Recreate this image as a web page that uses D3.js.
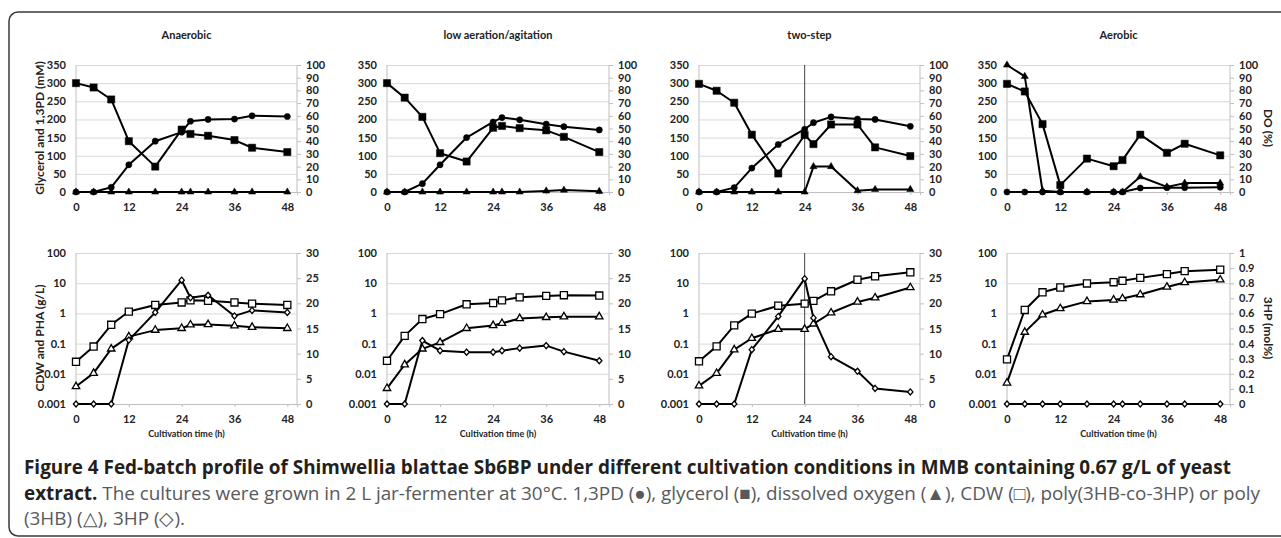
<!DOCTYPE html>
<html>
<head>
<meta charset="utf-8">
<script src="https://cdn.jsdelivr.net/npm/d3@7"></script>
<style>
  body { margin: 0; background: #fff; }
  svg { display: block; }
  .tick text { font-family: Lato, 'Open Sans', sans-serif; font-weight: bold; font-size: 11px; fill: #222; }
</style>
</head>
<body>
<svg id="chart" width="1281" height="538"></svg>
<script>
const hours = [0, 4, 8, 12, 18, 24, 26, 30, 36, 40, 48];
const conditions = ['Anaerobic', 'low aeration/agitation', 'two-step', 'Aerobic'];

// top row, left axis (mM) and right axis (DO %)
const glycerol = [
  [300, 288, 255, 140, 70, 172, 160, 155, 143, 122, 110],
  [300, 260, 207, 107, 84, 177, 182, 176, 170, 152, 110],
  [298, 279, 246, 158, 51, 157, 132, 186, 186, 123, 99],
  [298, 277, 187, 19, 92, 71, 88, 158, 108, 133, 101]
];
const propanediol = [
  [0, 0, 13, 75, 140, 165, 195, 200, 201, 210, 208],
  [0, 0, 23, 75, 150, 193, 205, 199, 187, 180, 171],
  [0, 0, 12, 66, 131, 173, 191, 207, 201, 200, 181],
  [0, 0, 0, 0, 0, 0, 0, 11, 12, 12, 13]
];
const dissolvedOxygen = [
  [0, 0, 0, 0, 0, 0, 0, 0, 0, 0, 0],
  [0, 0, 0, 0, 0, 0, 0, 0, 0.8, 1.5, 0.5],
  [0, 0, 0, 0, 0, 0, 20, 20, 1, 2, 2],
  [100, 91, 1, 0, 0, 0, 0, 12, 4, 7, 7]
];

// bottom row, left axis (g/L, log) and right axis (3HP mol%)
const cdw = [
  [0.025, 0.08, 0.42, 1.15, 1.9, 2.3, 2.7, 2.6, 2.3, 2.1, 1.9],
  [0.027, 0.18, 0.65, 0.95, 2.0, 2.2, 2.7, 3.4, 3.8, 4.0, 3.9],
  [0.026, 0.081, 0.4, 0.98, 1.8, 2.1, 2.6, 5.4, 13, 17, 23],
  [0.03, 1.3, 5, 7.2, 9.8, 10.8, 12, 15, 20, 25, 28]
];
const pha = [
  [0.0038, 0.0105, 0.067, 0.17, 0.28, 0.32, 0.42, 0.43, 0.39, 0.35, 0.32],
  [0.0033, 0.02, 0.067, 0.11, 0.32, 0.4, 0.47, 0.68, 0.74, 0.78, 0.78],
  [0.004, 0.0104, 0.063, 0.15, 0.3, 0.3, 0.45, 1.05, 2.4, 3.3, 7.2],
  [0.005, 0.24, 0.9, 1.45, 2.5, 2.8, 3.1, 4.2, 7.5, 10.5, 13]
];
const hp3 = [
  [0, 0, 0, 12.7, 18.2, 24.6, 21.1, 21.6, 17.5, 18.6, 18.2],
  [0, 0, 12.6, 10.6, 10.3, 10.3, 10.6, 11.1, 11.6, 10.4, 8.6],
  [0, 0, 0, 10.8, 17.4, 24.9, 17.1, 9.4, 6.5, 3.1, 2.4],
  [0, 0, 0, 0, 0, 0, 0, 0, 0, 0, 0]
];

const xTicks = [0, 12, 24, 36, 48];
const mMTicks = [0, 50, 100, 150, 200, 250, 300, 350];
const doTicks = [0, 10, 20, 30, 40, 50, 60, 70, 80, 90, 100];
const logTicks = [0.001, 0.01, 0.1, 1, 10, 100];
const molTicks = [0, 5, 10, 15, 20, 25, 30];
const molTicksAerobic = [0, 0.1, 0.2, 0.3, 0.4, 0.5, 0.6, 0.7, 0.8, 0.9, 1];

const svg = d3.select('#chart');
const cols = [
  { l: 76, r: 297 }, { l: 387, r: 609 }, { l: 699, r: 920 }, { l: 1007, r: 1230 }
];
const topY = [192, 65];
const botY = [404, 253];
const grid = '#d9d9d9';
const axisGrey = '#bfbfbf';
const font = "Lato, 'Open Sans', sans-serif";

// frame
svg.append('rect')
  .attr('x', 9).attr('y', 12).attr('width', 1300).attr('height', 524)
  .attr('rx', 9)
  .attr('fill', 'none').attr('stroke', '#3a3a3a').attr('stroke-width', 1.5);

const diamond = {
  draw(ctx, size) {
    const w = Math.sqrt(size) / 2, h = w * 1.15;
    ctx.moveTo(0, -h); ctx.lineTo(w, 0); ctx.lineTo(0, h); ctx.lineTo(-w, 0); ctx.closePath();
  }
};

const styleAxis = (g) => {
  g.select('.domain').remove();
  g.selectAll('.tick line').attr('stroke', axisGrey);
};

const drawSeries = (g, x, y, values, marker) => {
  const pts = hours.map((h, i) => [x(h), y(values[i])]);
  g.append('path')
    .attr('d', d3.line()(pts))
    .attr('fill', 'none').attr('stroke', '#000').attr('stroke-width', 2)
    .attr('stroke-linejoin', 'round');
  g.selectAll(null).data(pts).enter().append('path')
    .attr('transform', (d) => 'translate(' + d[0] + ',' + d[1] + ')')
    .attr('d', d3.symbol().type(marker.type).size(marker.size)())
    .attr('fill', marker.open ? '#fff' : '#000')
    .attr('stroke', '#000')
    .attr('stroke-width', marker.open ? 1.3 : 0.5);
};

const drawFrame = (g, x, yLeft, yRight, leftTicks, rightTicks, rightFmt, yRange) => {
  const w = x.range()[1] - x.range()[0];
  // gridlines
  g.append('g')
    .attr('transform', 'translate(' + x.range()[0] + ',0)')
    .call(d3.axisLeft(yLeft).tickValues(leftTicks).tickSize(-w).tickFormat(''))
    .call((a) => { a.select('.domain').remove(); a.selectAll('.tick line').attr('stroke', grid); });
  // left axis
  g.append('line')
    .attr('x1', x.range()[0]).attr('x2', x.range()[0])
    .attr('y1', yRange[0]).attr('y2', yRange[1]).attr('stroke', axisGrey);
  g.append('g')
    .attr('transform', 'translate(' + x.range()[0] + ',0)')
    .call(d3.axisLeft(yLeft).tickValues(leftTicks).tickSize(0).tickPadding(10)
      .tickFormat((d) => d < 1 ? String(d) : d3.format('d')(d)))
    .call(styleAxis);
  // right axis
  g.append('line')
    .attr('x1', x.range()[1]).attr('x2', x.range()[1])
    .attr('y1', yRange[0]).attr('y2', yRange[1]).attr('stroke', axisGrey);
  g.append('g')
    .attr('transform', 'translate(' + x.range()[1] + ',0)')
    .call(d3.axisRight(yRight).tickValues(rightTicks).tickSize(4).tickPadding(5).tickFormat(rightFmt))
    .call(styleAxis);
  // bottom axis
  g.append('g')
    .attr('transform', 'translate(0,' + yRange[0] + ')')
    .call(d3.axisBottom(x).tickValues(xTicks).tickSize(3).tickPadding(8))
    .call((a) => {
      a.select('.domain').attr('stroke', axisGrey);
      a.selectAll('.tick line').attr('stroke', axisGrey);
    });
};

conditions.forEach((name, i) => {
  const c = cols[i];
  const x = d3.scaleLinear([0, 50.2], [c.l, c.r]);

  // title
  svg.append('text')
    .attr('x', (c.l + c.r) / 2).attr('y', 39)
    .attr('text-anchor', 'middle')
    .attr('font-family', font).attr('font-weight', 'bold').attr('font-size', 11).attr('fill', '#222')
    .text(name);

  // top panel
  const gTop = svg.append('g');
  const yMM = d3.scaleLinear([0, 350], topY);
  const yDO = d3.scaleLinear([0, 100], topY);
  drawFrame(gTop, x, yMM, yDO, mMTicks, doTicks, d3.format('d'), topY);
  if (i === 2) {
    gTop.append('line')
      .attr('x1', x(24)).attr('x2', x(24)).attr('y1', topY[0]).attr('y2', topY[1])
      .attr('stroke', '#444').attr('stroke-width', 1);
  }
  drawSeries(gTop, x, yMM, glycerol[i], { type: d3.symbolSquare, size: 52 });
  drawSeries(gTop, x, yMM, propanediol[i], { type: d3.symbolCircle, size: 30 });
  drawSeries(gTop, x, yDO, dissolvedOxygen[i], { type: d3.symbolTriangle, size: 22 });

  // bottom panel
  const gBot = svg.append('g');
  const yLog = d3.scaleLog([0.001, 100], botY);
  const yMol = d3.scaleLinear([0, i === 3 ? 1 : 30], botY);
  drawFrame(gBot, x, yLog, yMol, logTicks, i === 3 ? molTicksAerobic : molTicks,
    (d) => String(d), botY);
  if (i === 2) {
    gBot.append('line')
      .attr('x1', x(24)).attr('x2', x(24)).attr('y1', botY[0]).attr('y2', botY[1])
      .attr('stroke', '#444').attr('stroke-width', 1);
  }
  drawSeries(gBot, x, yLog, cdw[i], { type: d3.symbolSquare, size: 50, open: true });
  drawSeries(gBot, x, yLog, pha[i], { type: d3.symbolTriangle, size: 24, open: true });
  drawSeries(gBot, x, yMol, hp3[i], { type: diamond, size: 28, open: true });

  svg.append('text')
    .attr('x', (c.l + c.r) / 2).attr('y', 437)
    .attr('text-anchor', 'middle')
    .attr('font-family', font).attr('font-weight', 'bold').attr('font-size', 9).attr('fill', '#222')
    .text('Cultivation time (h)');
});

// axis titles
const axisTitle = (x, y, rot, text) => {
  svg.append('text')
    .attr('transform', 'translate(' + x + ',' + y + ') rotate(' + rot + ')')
    .attr('text-anchor', 'middle')
    .attr('font-family', font).attr('font-weight', 'bold').attr('font-size', 12).attr('fill', '#222')
    .text(text);
};
axisTitle(44, 128, -90, 'Glycerol and 1,3PD (mM)');
axisTitle(44, 338, -90, 'CDW and PHA (g/L)');
axisTitle(1264, 128, 90, 'DO (%)');
axisTitle(1264, 328, 90, '3HP (mol%)');

// caption: size the font so the first line spans its measured width
const capFont = "'Open Sans', sans-serif";
const line1 = svg.append('text')
  .attr('x', 24).attr('y', 474)
  .style('font-family', capFont).style('font-weight', 'bold').style('font-size', '16px')
  .attr('fill', '#231f20')
  .text('Figure 4 Fed-batch profile of Shimwellia blattae Sb6BP under different cultivation conditions in MMB containing 0.67 g/L of yeast');
const capSize = 16 * 1208 / line1.node().getComputedTextLength();
line1.style('font-size', capSize + 'px');

const line2 = svg.append('text')
  .attr('x', 24).attr('y', 500)
  .style('font-family', capFont).style('font-size', capSize + 'px');
line2.append('tspan').style('font-weight', 'bold').attr('fill', '#231f20').text('extract.');
line2.append('tspan').attr('fill', '#58595b')
  .text(' The cultures were grown in 2 L jar-fermenter at 30°C. 1,3PD (●), glycerol (■), dissolved oxygen (▲), CDW (□), poly(3HB-co-3HP) or poly');
line2.attr('textLength', 1236).attr('lengthAdjust', 'spacing');

svg.append('text')
  .attr('x', 24).attr('y', 525)
  .style('font-family', capFont).style('font-size', capSize + 'px')
  .attr('fill', '#58595b')
  .text('(3HB) (△), 3HP (◇).');
</script>
</body>
</html>
